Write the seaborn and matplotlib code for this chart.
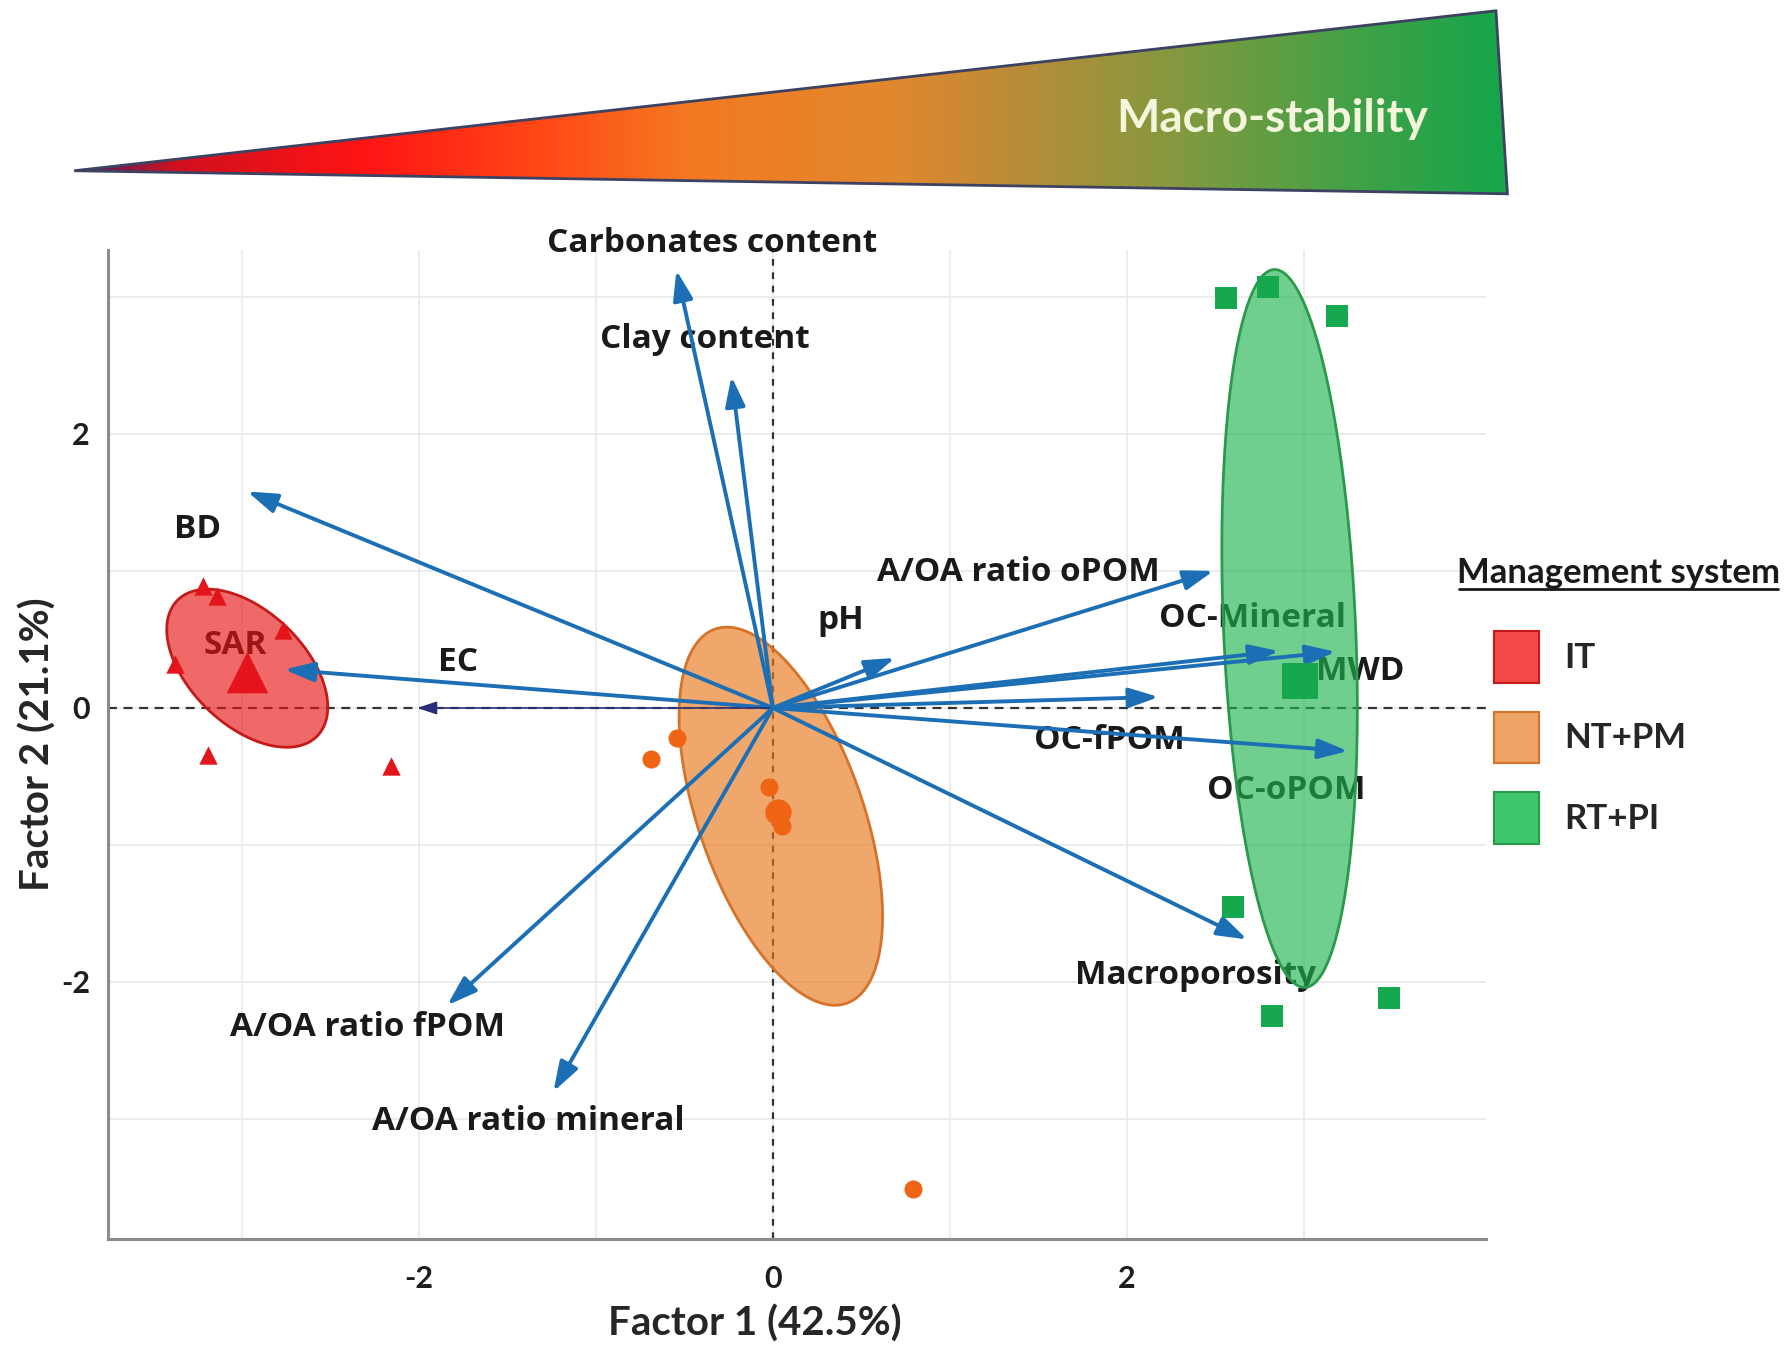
import numpy as np
import pandas as pd
import matplotlib
matplotlib.use("Agg")
import matplotlib.pyplot as plt
import seaborn as sns
from matplotlib.patches import Polygon, Patch
from matplotlib.colors import LinearSegmentedColormap
from matplotlib.lines import Line2D

# ---------------------------------------------------------------------------
# Sample scores on the first two factors, per management system
it_x = [-3.22, -3.14, -2.77, -3.38, -3.19, -2.16]
it_y = [0.89, 0.82, 0.57, 0.32, -0.34, -0.42]
ntpm_x = [-0.69, -0.54, -0.02, 0.05, 0.79]
ntpm_y = [-0.37, -0.22, -0.58, -0.86, -3.51]
rtpi_x = [2.56, 2.80, 3.19, 2.60, 2.82, 3.48]
rtpi_y = [2.99, 3.07, 2.86, -1.45, -2.25, -2.12]

# Group centroids
systems = ["IT", "NT+PM", "RT+PI"]
centroid_x = [-2.97, 0.03, 2.98]
centroid_y = [0.26, -0.76, 0.20]

# Confidence ellipses: centre, half-extent along each factor, correlation
ell_cx = [-2.97, 0.045, 2.92]
ell_cy = [0.29, -0.79, 0.58]
ell_hx = [0.455, 0.575, 0.383]
ell_hy = [0.577, 1.38, 2.62]
ell_rho = [-0.49, -0.53, -0.22]

# Variable loadings (arrow tips)
variables = ["Carbonates content", "Clay content", "BD", "SAR", "EC", "pH",
             "A/OA ratio oPOM", "OC-Mineral", "MWD", "OC-fPOM", "OC-oPOM",
             "Macroporosity", "A/OA ratio fPOM", "A/OA ratio mineral"]
load_x = [-0.545, -0.234, -2.97, -2.76, -2.01, 0.69, 2.49, 2.86, 3.18,
          2.18, 3.25, 2.68, -1.84, -1.24]
load_y = [3.195, 2.42, 1.58, 0.28, 0.0, 0.365, 1.0, 0.415, 0.41,
          0.08, -0.315, -1.69, -2.17, -2.80]

# Where each variable name is written
label_x = [-0.344, -0.383, -3.25, -3.04, -1.78, 0.383, 1.39, 2.71, 3.32,
           1.90, 2.90, 2.39, -2.29, -1.38]
label_y = [3.39, 2.69, 1.30, 0.456, 0.33, 0.64, 0.99, 0.656, 0.266,
           -0.24, -0.60, -1.95, -2.33, -3.02]

# Axis ticks
tick_values = [-2, 0, 2]
tick_labels = ["-2", "0", "2"]

# ---------------------------------------------------------------------------
sns.set_theme(style="white")
plt.rcParams["font.family"] = ["Lato", "DejaVu Sans"]
plt.rcParams["font.weight"] = "bold"
plt.rcParams["xtick.labelsize"] = 22
plt.rcParams["ytick.labelsize"] = 22
plt.rcParams["xtick.labelcolor"] = "#1e1e1e"
plt.rcParams["ytick.labelcolor"] = "#1e1e1e"
LABEL_FONT = ["Open Sans", "DejaVu Sans"]

fill_col = {"IT": "#e81414", "NT+PM": "#e87519", "RT+PI": "#1fb54e"}
edge_col = {"IT": "#c41a1a", "NT+PM": "#d6732a", "RT+PI": "#2a9a4a"}
patch_col = {"IT": "#f24848", "NT+PM": "#eda266", "RT+PI": "#3ec76c"}
mark_col = {"IT": "#e3141c", "NT+PM": "#f06416", "RT+PI": "#16a84e"}
mark_shape = {"IT": "^", "NT+PM": "o", "RT+PI": "s"}
rep_size = {"IT": 175, "NT+PM": 170, "RT+PI": 230}
cen_size = {"IT": 900, "NT+PM": 360, "RT+PI": 700}
arrow_col = "#1c6fb5"

samples = pd.concat([
    pd.DataFrame({"F1": it_x, "F2": it_y, "system": "IT"}),
    pd.DataFrame({"F1": ntpm_x, "F2": ntpm_y, "system": "NT+PM"}),
    pd.DataFrame({"F1": rtpi_x, "F2": rtpi_y, "system": "RT+PI"}),
], ignore_index=True)
centroids = pd.DataFrame({"F1": centroid_x, "F2": centroid_y, "system": systems})

fig = plt.figure(figsize=(17.85, 13.46), dpi=100)
fig.patch.set_facecolor("white")
ax = fig.add_axes([0.0605, 0.0795, 0.772, 0.7348])

# sample scores and centroids
for s in systems:
    sns.scatterplot(data=samples[samples.system == s], x="F1", y="F2",
                    marker=mark_shape[s], color=mark_col[s], s=rep_size[s],
                    linewidth=0, legend=False, ax=ax, zorder=4)
    sns.scatterplot(data=centroids[centroids.system == s], x="F1", y="F2",
                    marker=mark_shape[s], color=mark_col[s], s=cen_size[s],
                    linewidth=0, legend=False, ax=ax, zorder=4)

ax.set_xlim(-3.757, 4.03)
ax.set_ylim(-3.876, 3.343)

# grid every unit, labelled ticks every two units
ax.set_xticks(tick_values, tick_labels)
ax.set_yticks(tick_values, tick_labels)
ax.set_xticks(np.arange(-3, 4), minor=True)
ax.set_yticks(np.arange(-3, 4), minor=True)
ax.grid(True, which="both", color="#e9e9e9", lw=1.2, zorder=0)
ax.set_axisbelow(True)
for side in ["top", "right"]:
    ax.spines[side].set_visible(False)
for side in ["left", "bottom"]:
    ax.spines[side].set_color("#8c8c8c")
    ax.spines[side].set_linewidth(2.2)
ax.tick_params(which="major", direction="in", length=7, width=1.6,
               color="#555555", labelsize=22)
ax.tick_params(axis="x", which="major", pad=19)
ax.tick_params(axis="y", which="major", pad=13)
ax.tick_params(which="minor", length=0)
for lab in ax.get_xticklabels() + ax.get_yticklabels():
    lab.set_fontweight("bold")

ax.axhline(0, color="#333333", lw=1.6, ls=(0, (4, 3)), zorder=1)
ax.axvline(0, color="#333333", lw=1.6, ls=(0, (3, 3)), zorder=1)

# variable names sit beneath the ellipses
for name, lx, ly in zip(variables, label_x, label_y):
    ax.text(lx, ly, name, ha="center", va="center", fontsize=24,
            fontweight="bold", family=LABEL_FONT, color="#1a1a1a", zorder=1.5)

# confidence ellipses
t = np.linspace(0, 2 * np.pi, 300)
for s, cx, cy, hx, hy, r in zip(systems, ell_cx, ell_cy, ell_hx, ell_hy, ell_rho):
    ex = cx + hx * np.cos(t)
    ey = cy + hy * (r * np.cos(t) + np.sqrt(1 - r ** 2) * np.sin(t))
    ax.fill(ex, ey, facecolor=fill_col[s], alpha=0.64, edgecolor="none", zorder=2)
    ax.plot(ex, ey, color=edge_col[s], lw=2.0, zorder=2.1)

# loading arrows
for name, vx, vy in zip(variables, load_x, load_y):
    thin = name == "EC"
    style = ("-|>,head_length=0.6,head_width=0.2" if thin
             else "-|>,head_length=0.9,head_width=0.3")
    ax.annotate("", xy=(vx, vy), xytext=(0, 0),
                arrowprops=dict(arrowstyle=style,
                                color="#2b2f7a" if thin else arrow_col,
                                lw=1.2 if thin else 2.8,
                                shrinkA=0, shrinkB=0, mutation_scale=20),
                zorder=3)

ax.set_xlabel("Factor 1 (42.5%)", fontsize=29, fontweight="bold")
ax.set_ylabel("Factor 2 (21.1%)", fontsize=29, fontweight="bold")
ax.xaxis.set_label_coords(0.4695, -0.066)
ax.yaxis.set_label_coords(-0.037, 0.5)

# legend
handles = [Patch(facecolor=patch_col[s], edgecolor=edge_col[s], lw=1.5, label=s)
           for s in systems]
leg = fig.legend(handles=handles, loc="upper left",
                 bbox_to_anchor=(0.827, 0.544), frameon=False,
                 prop=dict(family=["Lato", "DejaVu Sans"], weight="bold", size=25),
                 handlelength=1.3, handleheight=1.9, labelspacing=0.84,
                 handletextpad=0.75, borderpad=0)
fig.text(0.907, 0.5746, "Management system", ha="center", va="center",
         fontsize=25, fontweight="bold", color="#1a1a1a")
fig.add_artist(Line2D([0.8176, 0.9962], [0.5627, 0.5627], color="#1a1a1a",
                      lw=2, transform=fig.transFigure))

# macro-stability wedge
gax = fig.add_axes([0.0415, 0.856, 0.803, 0.136])
gax.set_xlim(0, 1)
gax.set_ylim(0, 1)
gax.axis("off")
wedge_cmap = LinearSegmentedColormap.from_list("wedge", [
    (0.00, "#4a2060"), (0.07, "#d0101e"), (0.20, "#ff1414"),
    (0.33, "#ff4a16"), (0.43, "#f37a22"), (0.57, "#e2882e"),
    (0.66, "#b98c38"), (0.78, "#7f9a40"), (0.90, "#3fa147"),
    (1.00, "#16a64b")])
im = gax.imshow(np.linspace(0, 1, 600).reshape(1, -1), cmap=wedge_cmap,
                extent=[0, 1, 0, 1], aspect="auto")
wedge = Polygon([(0, 0.126), (0.992, 1.0), (1.0, 0.0)], closed=True,
                facecolor="none", edgecolor="#3d4262", lw=2, clip_on=False)
gax.add_patch(wedge)
im.set_clip_path(wedge)
gax.text(0.836, 0.41, "Macro-stability", ha="center", va="center",
         fontsize=33, fontweight="bold", color="#f3f6da")

fig.savefig("out.png", dpi=100, facecolor="white")
